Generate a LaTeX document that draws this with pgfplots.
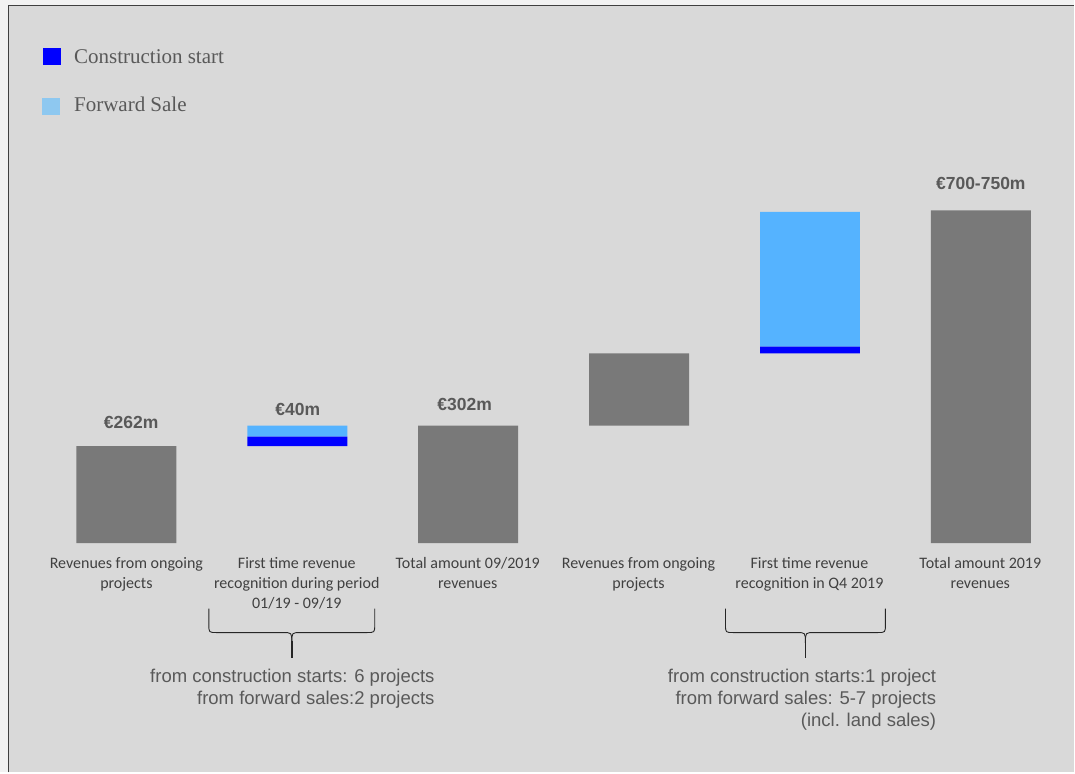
\documentclass[border=0pt]{standalone}
\usepackage{pgfplots}
\pgfplotsset{compat=1.18}
\usepackage{pgfplotstable}
\usepackage{fontspec}
\setmainfont{Liberation Sans}
\newfontfamily\carlito{Carlito}
\newfontfamily\lserif{Liberation Serif}
\definecolor{bgout}{HTML}{F2F2F2}
\definecolor{bgin}{HTML}{D9D9D9}
\definecolor{frame}{HTML}{404040}
\definecolor{barGrey}{HTML}{797979}
\definecolor{darkBlue}{HTML}{0000FF}
\definecolor{lightBlue}{HTML}{55B3FF}
\definecolor{legLight}{HTML}{8EC8F0}
\definecolor{txtA}{HTML}{404040}
\definecolor{txtB}{HTML}{595959}

% values: x index, invisible base, grey, construction start, forward sale
\pgfplotstableread{
x base grey cons fwd
0 0   262 0  0
1 262 0   25 30
2 0   317 0  0
3 317 195 0  0
4 512 0   18 364
5 0   898 0  0
}\wfdata

\begin{document}
\begin{tikzpicture}
\begin{scope}[shift={(0bp,773bp)}, x=1bp, y=-1bp]
\fill[bgout] (0,0) rectangle (1075,773);
\fill[bgin] (8.5,5.5) rectangle (1075,773);
\draw[frame, line width=1.5bp] (8.5,773) -- (8.5,5.5) -- (1075,5.5);
\end{scope}

\begin{axis}[
  width=1075bp, height=773bp, scale only axis,
  xmin=-0.73977, xmax=5.54678, ymin=-618.7, ymax=1465.3,
  hide axis,
  ybar stacked, bar width=100bp,
]
\addplot[draw=none, fill=none] table[x=x, y=base] {\wfdata};
\addplot[draw=none, fill=barGrey] table[x=x, y=grey] {\wfdata};
\addplot[draw=none, fill=darkBlue] table[x=x, y=cons] {\wfdata};
\addplot[draw=none, fill=lightBlue] table[x=x, y=fwd] {\wfdata};
\end{axis}

\begin{scope}[shift={(0bp,773bp)}, x=1bp, y=-1bp]
% legend
\fill[darkBlue] (43,48) rectangle (61,65);
\fill[legLight] (42,98) rectangle (60,115);
\node[anchor=base west, inner sep=0, text=txtB, font=\lserif\fontsize{21bp}{24bp}\selectfont] at (74,63.3) {Construction start};
\node[anchor=base west, inner sep=0, text=txtB, font=\lserif\fontsize{21bp}{24bp}\selectfont] at (74,111.7) {Forward Sale};

% data labels
\begin{scope}[every node/.style={anchor=base, inner sep=0, text=txtB, font=\bfseries\fontsize{17.5bp}{20bp}\selectfont}]
\node at (131.3,429.3) {€262m};
\node at (298,415.7) {€40m};
\node at (465,410.7) {€302m};
\node at (981.5,190) {€700-750m};
\end{scope}

% category labels
\begin{scope}[every node/.style={anchor=base, inner sep=0, text=txtA, font=\carlito\fontsize{16bp}{20bp}\selectfont}]
\node at (126.5,569) {Revenues from ongoing};
\node at (126.5,589) {projects};
\node at (297,569) {First time revenue};
\node at (297,589) {recognition during period};
\node at (297,609) {01/19 - 09/19};
\node at (468,569) {Total amount 09/2019};
\node at (468,589) {revenues};
\node at (639,569) {Revenues from ongoing};
\node at (639,589) {projects};
\node at (810,569) {First time revenue};
\node at (810,589) {recognition in Q4 2019};
\node at (981,569) {Total amount 2019};
\node at (981,589) {revenues};
\end{scope}

% brackets
\begin{scope}[draw=black!85, line width=0.9bp]
\draw (209,609) -- (209,625) .. controls (209,633) .. (217,633) -- (283,633) .. controls (292,633) .. (292,643);
\draw (375,609) -- (375,625) .. controls (375,633) .. (367,633) -- (301,633) .. controls (292,633) .. (292,643);
\draw[line width=1.8bp] (292,641) -- (292,658);
\draw (726,609) -- (726,625) .. controls (726,633) .. (734,633) -- (797,633) .. controls (806,633) .. (806,643);
\draw (886,609) -- (886,625) .. controls (886,633) .. (878,633) -- (815,633) .. controls (806,633) .. (806,643);
\draw[line width=1.8bp] (806,641) -- (806,658);
\end{scope}

% annotations
\begin{scope}[every node/.style={anchor=base east, inner sep=0, text=txtB, font=\fontsize{18.5bp}{22bp}\selectfont}]
\node at (435,682.7) {from construction starts: 6 projects};
\node at (435,705) {from forward sales:2 projects};
\node at (937,682.7) {from construction starts:1 project};
\node at (937,705) {from forward sales: 5-7 projects};
\node at (937,727) {(incl. land sales)};
\end{scope}
\end{scope}
\end{tikzpicture}
\end{document}
